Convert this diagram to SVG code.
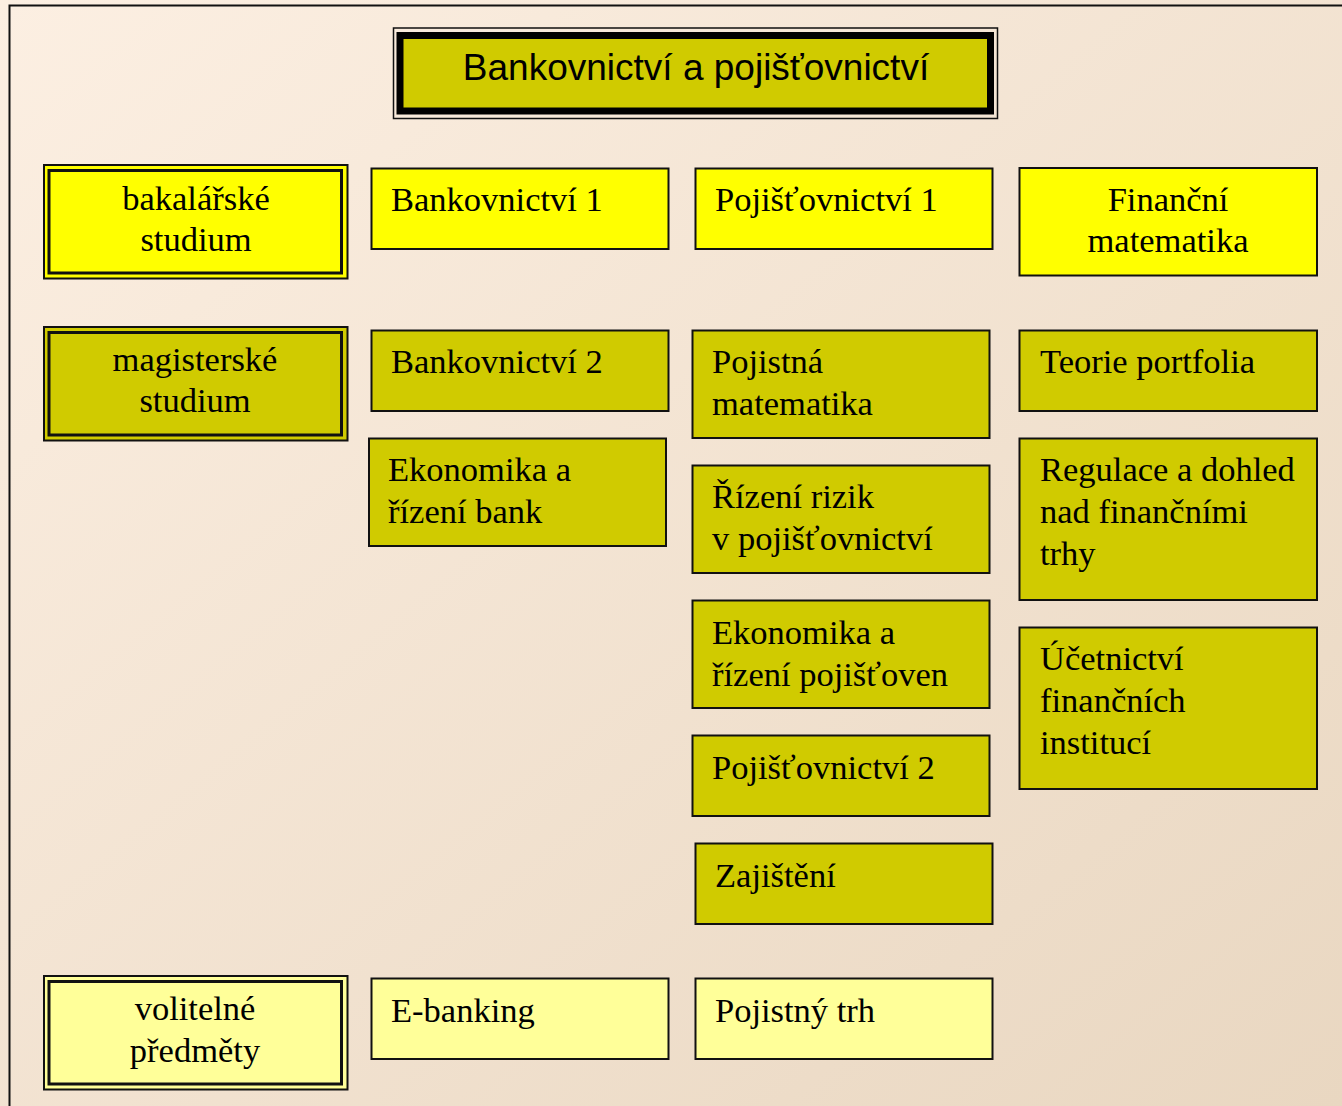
<svg xmlns="http://www.w3.org/2000/svg" width="1342" height="1106" viewBox="0 0 1342 1106">
<defs>
<linearGradient id="bg" x1="0" y1="0" x2="1" y2="1">
<stop offset="0" stop-color="#FCEFE2"/>
<stop offset="1" stop-color="#E9D7C1"/>
</linearGradient>
</defs>
<style>
.box{stroke:#111;stroke-width:2}
.y{fill:#FFFF00}
.o{fill:#D0CB00}
.l{fill:#FFFF99}
.inner{fill:none;stroke:#111;stroke-width:3}
.t{font-family:"Liberation Serif","Times New Roman",serif;font-size:34.5px;fill:#000}
.c{text-anchor:middle}
.title{font-family:"Liberation Sans",Arial,sans-serif;font-size:37px;fill:#000;text-anchor:middle}
</style>
<rect x="0" y="0" width="1342" height="1106" fill="url(#bg)"/>
<path d="M9.5 1106 V5.5 H1342" fill="none" stroke="#111" stroke-width="2"/>
<g id="connectors"/>
<g id="title">
<rect x="393.5" y="28" width="604" height="90.5" fill="none" stroke="#111" stroke-width="1.5"/>
<rect x="400" y="35.5" width="590.5" height="75.5" fill="#D0CB00" stroke="#000" stroke-width="7"/>
<text class="title" x="696" y="80">Bankovnictví a pojišťovnictví</text>
</g>
<g id="bakalarske">
<rect class="box y" x="44" y="165" width="303.5" height="113.5"/>
<rect class="inner" x="49" y="170.5" width="292.5" height="102.5"/>
<text class="t c" x="196" y="210">bakalářské</text>
<text class="t c" x="196" y="251">studium</text>
</g>
<g id="magisterske">
<rect class="box o" x="44" y="327" width="303.5" height="113.5"/>
<rect class="inner" x="49" y="332.5" width="292.5" height="102.5"/>
<text class="t c" x="195" y="371">magisterské</text>
<text class="t c" x="195" y="412">studium</text>
</g>
<g id="volitelne">
<rect class="box l" x="44" y="976" width="303.5" height="113.5"/>
<rect class="inner" x="49" y="981.5" width="292.5" height="102.5"/>
<text class="t c" x="195" y="1020">volitelné</text>
<text class="t c" x="195" y="1062">předměty</text>
</g>
<g id="bankovnictvi1">
<rect class="box y" x="371.5" y="168.5" width="297" height="80.5"/>
<text class="t" x="391" y="211">Bankovnictví 1</text>
</g>
<g id="bankovnictvi2">
<rect class="box o" x="371.5" y="330.5" width="297" height="80.5"/>
<text class="t" x="391" y="373">Bankovnictví 2</text>
</g>
<g id="ekonomika-bank">
<rect class="box o" x="369" y="438.5" width="297" height="107.5"/>
<text class="t" x="388" y="481">Ekonomika a</text>
<text class="t" x="388" y="523">řízení bank</text>
</g>
<g id="ebanking">
<rect class="box l" x="371.5" y="978.5" width="297" height="80.5"/>
<text class="t" x="391" y="1022">E-banking</text>
</g>
<g id="pojistovnictvi1">
<rect class="box y" x="695.5" y="168.5" width="297" height="80.5"/>
<text class="t" x="715" y="211">Pojišťovnictví 1</text>
</g>
<g id="pojistna-matematika">
<rect class="box o" x="692.5" y="330.5" width="297" height="107.5"/>
<text class="t" x="712" y="373">Pojistná</text>
<text class="t" x="712" y="415">matematika</text>
</g>
<g id="rizeni-rizik">
<rect class="box o" x="692.5" y="465.5" width="297" height="107.5"/>
<text class="t" x="712" y="508">Řízení rizik</text>
<text class="t" x="712" y="550">v pojišťovnictví</text>
</g>
<g id="ekonomika-pojistoven">
<rect class="box o" x="692.5" y="600.5" width="297" height="107.5"/>
<text class="t" x="712" y="644">Ekonomika a</text>
<text class="t" x="712" y="686">řízení pojišťoven</text>
</g>
<g id="pojistovnictvi2">
<rect class="box o" x="692.5" y="735.5" width="297" height="80.5"/>
<text class="t" x="712" y="779">Pojišťovnictví 2</text>
</g>
<g id="zajisteni">
<rect class="box o" x="695.5" y="843.5" width="297" height="80.5"/>
<text class="t" x="715" y="887">Zajištění</text>
</g>
<g id="pojistny-trh">
<rect class="box l" x="695.5" y="978.5" width="297" height="80.5"/>
<text class="t" x="715" y="1022">Pojistný trh</text>
</g>
<g id="financni-matematika">
<rect class="box y" x="1019.5" y="168" width="297.5" height="107.5"/>
<text class="t c" x="1168" y="211">Finanční</text>
<text class="t c" x="1168" y="252">matematika</text>
</g>
<g id="teorie-portfolia">
<rect class="box o" x="1019.5" y="330.5" width="297.5" height="80.5"/>
<text class="t" x="1040" y="373">Teorie portfolia</text>
</g>
<g id="regulace">
<rect class="box o" x="1019.5" y="438.5" width="297.5" height="161.5"/>
<text class="t" x="1040" y="481">Regulace a dohled</text>
<text class="t" x="1040" y="523">nad finančními</text>
<text class="t" x="1040" y="565">trhy</text>
</g>
<g id="ucetnictvi">
<rect class="box o" x="1019.5" y="627.5" width="297.5" height="161.5"/>
<text class="t" x="1040" y="670">Účetnictví</text>
<text class="t" x="1040" y="712">finančních</text>
<text class="t" x="1040" y="754">institucí</text>
</g>
</svg>
